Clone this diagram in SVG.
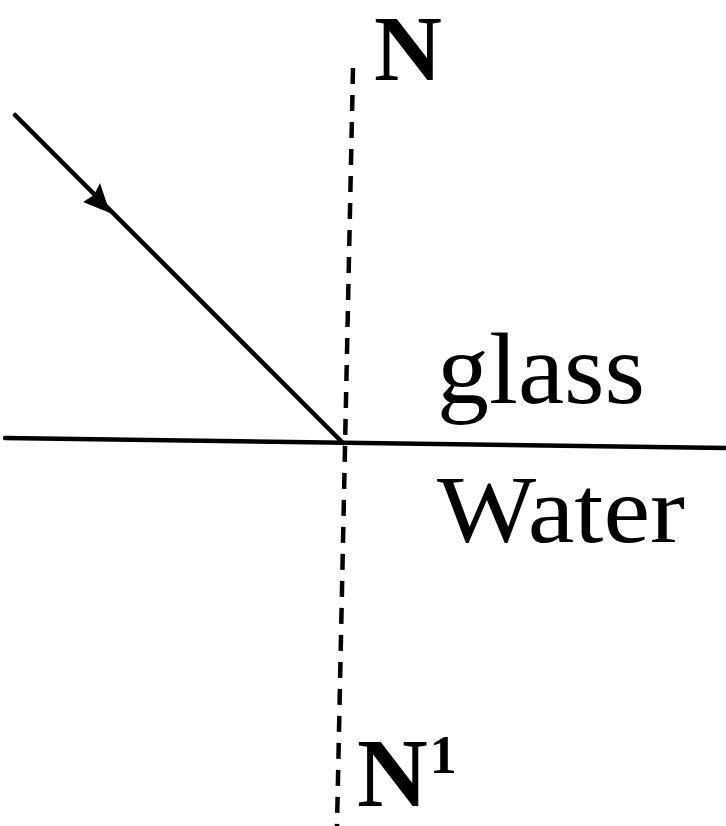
<svg xmlns="http://www.w3.org/2000/svg" width="726" height="826" viewBox="0 0 726 826">
<style>
.ln{stroke:#000;stroke-width:4.5;fill:none;stroke-linecap:round}
.dash{stroke:#000;stroke-width:4.5;fill:none;stroke-dasharray:16 11}
.t{font-family:"Liberation Serif","Times New Roman",serif;fill:#000}
.b{font-weight:bold}
</style>
<rect width="726" height="826" fill="#fff"/>
<g id="connectors">
<line id="normal" class="dash" x1="353" y1="68" x2="337" y2="826"/>
<line id="interface" class="ln" x1="5" y1="438" x2="726" y2="448"/>
<line id="ray" class="ln" x1="15" y1="115" x2="343" y2="443"/>
<polygon id="arrowhead" points="110,213 83,202 94,195 100,183" fill="#000"/>
</g>
<g id="label-N"><text class="t b" x="374" y="80" font-size="94">N</text></g>
<g id="label-glass"><text class="t" x="437" y="403" font-size="102" textLength="208" lengthAdjust="spacingAndGlyphs">glass</text></g>
<g id="label-water"><text class="t" x="437" y="542" font-size="96" textLength="248" lengthAdjust="spacingAndGlyphs">Water</text></g>
<g id="label-N1"><text class="t b" x="357" y="806" font-size="98">N<tspan font-size="54" dy="-33" dx="2">1</tspan></text></g>
</svg>
